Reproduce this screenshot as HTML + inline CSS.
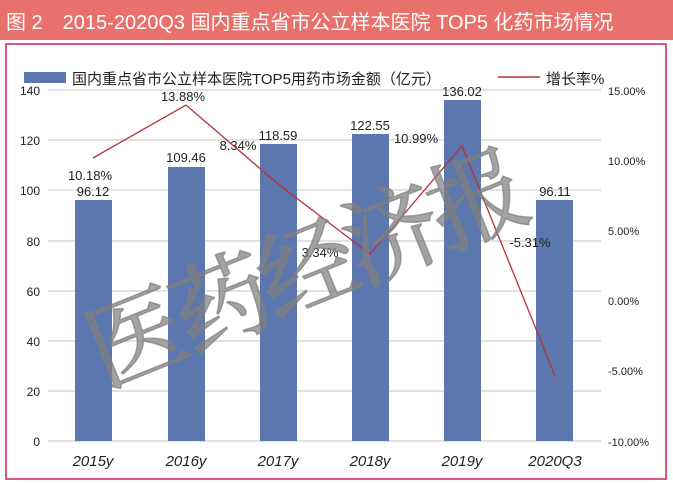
<!DOCTYPE html>
<html><head><meta charset="utf-8"><style>
body{margin:0;background:#fff;}
svg{display:block;font-family:"Liberation Sans","Noto Sans CJK SC",sans-serif;}
</style></head><body>
<svg width="673" height="484" viewBox="0 0 673 484" xmlns="http://www.w3.org/2000/svg">
<rect x="0" y="0" width="673" height="40" fill="#e9716b"/>
<text x="6" y="29" font-size="20" fill="#fff" font-family="Liberation Sans,Noto Sans CJK SC,sans-serif">图 2　2015-2020Q3 国内重点省市公立样本医院 TOP5 化药市场情况</text>
<rect x="6" y="44" width="660" height="435" fill="#fff" stroke="#d4234f" stroke-width="1.5"/>
<rect x="24" y="72" width="42" height="11" fill="#5b77ae"/>
<text x="72" y="84" font-size="15" fill="#222">国内重点省市公立样本医院TOP5用药市场金额（亿元）</text>
<line x1="498" y1="77" x2="540" y2="77" stroke="#b8323a" stroke-width="1.5"/>
<text x="546" y="84" font-size="15" fill="#222">增长率%</text>
<g stroke="#d9d9d9" stroke-width="1.5">
<line x1="48" y1="90" x2="601" y2="90"/><line x1="48" y1="140" x2="601" y2="140"/><line x1="48" y1="190" x2="601" y2="190"/><line x1="48" y1="241" x2="601" y2="241"/><line x1="48" y1="291" x2="601" y2="291"/><line x1="48" y1="341" x2="601" y2="341"/><line x1="48" y1="391" x2="601" y2="391"/><line x1="48" y1="441" x2="601" y2="441"/>
</g>
<g font-size="12" fill="#222" text-anchor="end">
<text x="40" y="95">140</text><text x="40" y="145">120</text><text x="40" y="195">100</text><text x="40" y="246">80</text><text x="40" y="296">60</text><text x="40" y="346">40</text><text x="40" y="396">20</text><text x="40" y="446">0</text>
</g>
<g font-size="11" fill="#222">
<text x="608" y="95">15.00%</text><text x="608" y="165">10.00%</text><text x="608" y="235">5.00%</text><text x="608" y="305">0.00%</text><text x="608" y="375">-5.00%</text><text x="608" y="446">-10.00%</text>
</g>
<g fill="#5b77ae">
<rect x="75" y="200" width="37" height="241"/>
<rect x="168" y="167" width="37" height="274"/>
<rect x="260" y="144" width="37" height="297"/>
<rect x="352" y="134" width="37" height="307"/>
<rect x="444" y="100" width="37" height="341"/>
<rect x="536" y="200" width="37" height="241"/>
</g>
<g font-size="13" fill="#222" text-anchor="middle">
<text x="93" y="196">96.12</text><text x="186" y="162">109.46</text><text x="278" y="140">118.59</text><text x="370" y="130">122.55</text><text x="462" y="96">136.02</text><text x="555" y="196">96.11</text>
<text x="90" y="180">10.18%</text><text x="183" y="101">13.88%</text><text x="238" y="150">8.34%</text><text x="320" y="257">3.34%</text><text x="416" y="143">10.99%</text><text x="530" y="247">-5.31%</text>
</g>
<polyline points="93,158 186,105 278,184 370,254 462,146 555,376" fill="none" stroke="#b8323a" stroke-width="1.3"/>
<g font-size="15" font-style="italic" fill="#222" text-anchor="middle">
<text x="93" y="466">2015y</text><text x="186" y="466">2016y</text><text x="278" y="466">2017y</text><text x="370" y="466">2018y</text><text x="462" y="466">2019y</text><text x="555" y="466">2020Q3</text>
</g>
<text x="0" y="0" font-size="98" fill="#808080" fill-opacity="0.72" stroke="#808080" stroke-opacity="0.72" stroke-width="1.5" font-family="Noto Serif CJK SC,serif" transform="translate(104,388) rotate(-22)" letter-spacing="-6">医药经济报</text>
</svg>
</body></html>
